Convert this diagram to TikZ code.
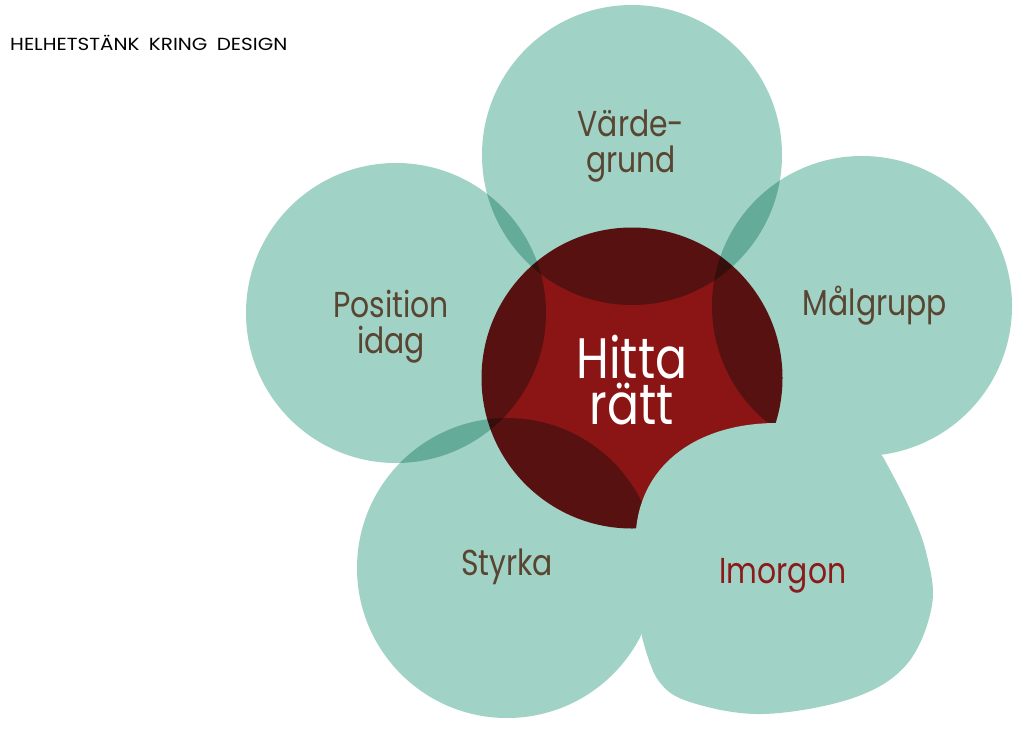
\documentclass[tikz,border=0pt]{standalone}
\usepackage{fontspec}
\setmainfont{Poppins}
\newfontfamily\narrowfont[FakeStretch=0.83]{Poppins}
\newfontfamily\widefont[FakeStretch=1.14]{Poppins}
\definecolor{petal}{RGB}{160,210,198}
\definecolor{core}{RGB}{139,21,21}
\definecolor{labelbrown}{RGB}{89,70,50}
\definecolor{labelred}{RGB}{139,26,26}
\tikzset{
  petalcircle/.style={fill=petal, blend mode=multiply},
  corecircle/.style={fill=core, blend mode=multiply},
  lbl/.style={text=labelbrown, anchor=base, inner sep=0pt, align=center, font=\narrowfont\fontsize{36}{36}\selectfont},
  bigl/.style={text=white, anchor=base, inner sep=0pt, align=center, font=\narrowfont\fontsize{57}{46}\selectfont},
}
\begin{document}
\begin{tikzpicture}[x=1pt,y=-1pt]
\useasboundingbox (0,0) rectangle (1019,728);
\fill[white] (0,0) rectangle (1019,728);
\begin{scope}[transparency group]
\fill[corecircle] (632,378) circle (150.5);
\fill[petalcircle] (632,155) circle (150);
\fill[petalcircle] (396,313) circle (150);
\fill[petalcircle] (862,306) circle (150);
\fill[petalcircle] (507,568) circle (150);
\end{scope}
% Imorgon blob (opaque)
\fill[petal] (777,423) .. controls (700,423) and (642,462) .. (636,530)
  -- (642,637) -- plot[smooth, tension=0.6] coordinates {(642,637) (658,680) (690,702) (763,714) (853,698) (907,664) (932,605) (926,552) (908,505) (883,457)}
  -- (870,440) -- cycle;
\node[anchor=base west, inner sep=0pt, font=\widefont\fontsize{17.5}{17.5}\selectfont] (title) at (10,50) {HELHETSTÄNK\hspace{4pt} KRING\hspace{4pt} DESIGN};
\node[lbl] (varde) at (631,172) {Värde-\\grund};
\node[lbl] (pos) at (391,353) {Position\\idag};
\node[lbl] (malg) at (875,315) {Målgrupp};
\node[lbl] (styrka) at (507,575) {Styrka};
\node[lbl, text=labelred] (imorgon) at (783,583) {Imorgon};
\node[bigl] (hitta) at (632,424) {Hitta\\rätt};
\end{tikzpicture}
\end{document}
